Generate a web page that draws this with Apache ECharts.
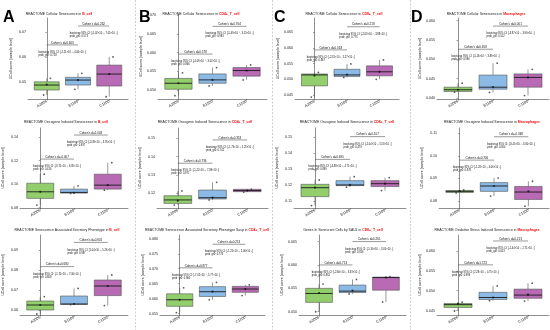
<!DOCTYPE html>
<html><head><meta charset="utf-8">
<script src="https://cdn.jsdelivr.net/npm/echarts@6/dist/echarts.min.js"></script>
<style>html,body{margin:0;padding:0;background:#fff}#c{width:550px;height:330px}</style>
</head><body><div id="c"></div>
<script>
const groups = ['A3006', 'B1100', 'C1100'];
const panelLetters = ['A', 'B', 'C', 'D'];
const yName = 'UCell score [sample level]';

// ---- A1
const titleA1 = ['REACTOME Cellular Senescence in ', 'B_cell'];
const ticksA1 = ['0.05', '0.06', '0.07'];
const boxA1 = [[0.0448, 0.0468, 0.0488, 0.0501, 0.0515], [0.0471, 0.0488, 0.0508, 0.0519, 0.0535], [0.0441, 0.0484, 0.0532, 0.0568, 0.0601]];
const meanA1 = [0.0490, 0.0508, 0.0532];
const ptsA1 = [[0.0515, 0.0448], [0.0535, 0.0471], [0.0601, 0.0441]];
const statsA1 = [["Cohen's d=0.603", "bootstrap 95% CI: [-1.21×10⁻³, 4.00×10⁻³]", "prob_gt0: 0.728"], ["Cohen's d=0.262", "bootstrap 95% CI: [-5.02×10⁻³, 7.05×10⁻³]", "prob_gt0: 0.573"]];
// ---- B1
const titleB1 = ['REACTOME Cellular Senescence in ', 'CD4+_T_cell'];
const ticksB1 = ['0.050', '0.055', '0.060', '0.065', '0.070'];
const boxB1 = [[0.0485, 0.0502, 0.0518, 0.0531, 0.0546], [0.0511, 0.0518, 0.0527, 0.0543, 0.0560], [0.0527, 0.0537, 0.0552, 0.0560, 0.0567]];
const meanB1 = [0.0518, 0.0527, 0.0552];
const ptsB1 = [[0.0546, 0.0485], [0.0560, 0.0511], [0.0567, 0.0527]];
const statsB1 = [["Cohen's d=0.578", "bootstrap 95% CI: [-4.03×10⁻⁴, 3.02×10⁻³]", "prob_gt0: 0.866"], ["Cohen's d=0.764", "bootstrap 95% CI: [-5.49×10⁻⁴, 3.55×10⁻³]", "prob_gt0: 0.983"]];
// ---- C1
const titleC1 = ['REACTOME Cellular Senescence in ', 'CD8+_T_cell'];
const ticksC1 = ['0.045', '0.050', '0.055', '0.060', '0.065'];
const boxC1 = [[0.0443, 0.0479, 0.0514, 0.0517, 0.0522], [0.0506, 0.0509, 0.0514, 0.0532, 0.0549], [0.0500, 0.0511, 0.0524, 0.0543, 0.0562]];
const meanC1 = [0.0512, 0.0515, 0.0524];
const ptsC1 = [[0.0522, 0.0443], [0.0549, 0.0506], [0.0562, 0.0500]];
const statsC1 = [["Cohen's d=0.563", "bootstrap 95% CI: [-2.31×10⁻³, 5.27×10⁻³]", "prob_gt0: 0.867"], ["Cohen's d=0.218", "bootstrap 95% CI: [-2.63×10⁻³, 3.88×10⁻³]", "prob_gt0: 0.773"]];
// ---- D1
const titleD1 = ['REACTOME Cellular Senescence in ', 'Macrophages'];
const ticksD1 = ['0.040', '0.045', '0.050', '0.055', '0.060'];
const boxD1 = [[0.04147, 0.04164, 0.0421, 0.04276, 0.0438], [0.0414, 0.04224, 0.04276, 0.0459, 0.0490], [0.0406, 0.04276, 0.0453, 0.0462, 0.0474]];
const meanD1 = [0.0421, 0.0428, 0.0453];
const ptsD1 = [[0.0438, 0.04147], [0.0490, 0.0414], [0.0474, 0.0406]];
const statsD1 = [["Cohen's d=0.658", "bootstrap 95% CI: [-5.26×10⁻⁴, 3.89×10⁻³]", "prob_gt0: 0.996"], ["Cohen's d=0.001", "bootstrap 95% CI: [-3.87×10⁻³, 3.90×10⁻³]", "prob_gt0: 0.512"]];
// ---- A2
const titleA2 = ['REACTOME Oncogene Induced Senescence in ', 'B_cell'];
const ticksA2 = ['0.08', '0.10', '0.12', '0.14'];
const boxA2 = [[0.0822, 0.0879, 0.0935, 0.1008, 0.1085], [0.0921, 0.0924, 0.0930, 0.0958, 0.0986], [0.0949, 0.0958, 0.0992, 0.1085, 0.1183]];
const meanA2 = [0.0935, 0.0927, 0.0992];
const ptsA2 = [[0.1085, 0.0822], [0.0986, 0.0921], [0.1183, 0.0949]];
const statsA2 = [["Cohen's d=-0.007", "bootstrap 95% CI: [-9.72×10⁻³, 6.85×10⁻³]", "prob_gt0: 0.416"], ["Cohen's d=1.003", "bootstrap 95% CI: [-3.09×10⁻³, 3.76×10⁻²]", "prob_gt0: 0.937"]];
// ---- B2
const titleB2 = ['REACTOME Oncogene Induced Senescence in ', 'CD4+_T_cell'];
const ticksB2 = ['0.12', '0.13', '0.14', '0.15'];
const boxB2 = [[0.1136, 0.1145, 0.1164, 0.1187, 0.1213], [0.1164, 0.1169, 0.1176, 0.1218, 0.1260], [0.1207, 0.1209, 0.1215, 0.1222, 0.1222]];
const meanB2 = [0.1160, 0.1176, 0.1215];
const ptsB2 = [[0.1213, 0.1136], [0.1260, 0.1164], [0.1222, 0.1207]];
const statsB2 = [["Cohen's d=0.736", "bootstrap 95% CI: [-1.22×10⁻³, 7.89×10⁻³]", "prob_gt0: 0.971"], ["Cohen's d=0.353", "bootstrap 95% CI: [-1.73×10⁻³, 5.25×10⁻³]", "prob_gt0: 0.742"]];
// ---- C2
const titleC2 = ['REACTOME Oncogene Induced Senescence in ', 'CD8+_T_cell'];
const ticksC2 = ['0.11', '0.12', '0.13', '0.14', '0.15'];
const boxC2 = [[0.1073, 0.1129, 0.1185, 0.1206, 0.1233], [0.1188, 0.1198, 0.1202, 0.1229, 0.1254], [0.1167, 0.1192, 0.1210, 0.1229, 0.1248]];
const meanC2 = [0.1185, 0.1202, 0.1210];
const ptsC2 = [[0.1233, 0.1073], [0.1254, 0.1188], [0.1248, 0.1167]];
const statsC2 = [["Cohen's d=0.695", "bootstrap 95% CI: [-3.88×10⁻³, 4.71×10⁻³]", "prob_gt0: 0.899"], ["Cohen's d=0.107", "bootstrap 95% CI: [-5.04×10⁻³, 5.53×10⁻³]", "prob_gt0: 0.479"]];
// ---- D2
const titleD2 = ['REACTOME Oncogene Induced Senescence in ', 'Macrophages'];
const ticksD2 = ['0.08', '0.09', '0.10', '0.11'];
const boxD2 = [[0.0835, 0.0837, 0.0842, 0.0846, 0.0848], [0.0821, 0.0842, 0.0866, 0.0881, 0.0901], [0.0776, 0.0806, 0.0839, 0.0864, 0.0887]];
const meanD2 = [0.0843, 0.0866, 0.0842];
const ptsD2 = [[0.0848, 0.0835], [0.0901, 0.0821], [0.0887, 0.0776]];
const statsD2 = [["Cohen's d=0.706", "bootstrap 95% CI: [-1.28×10⁻³, 4.06×10⁻³]", "prob_gt0: 0.878"], ["Cohen's d=-0.348", "bootstrap 95% CI: [-8.45×10⁻³, 3.00×10⁻³]", "prob_gt0: 0.304"]];
// ---- A3
const titleA3 = ['REACTOME Senescence Associated Secretory Phenotype in ', 'B_cell'];
const ticksA3 = ['0.06', '0.07', '0.08', '0.09'];
const boxA3 = [[0.0580, 0.0600, 0.0625, 0.0645, 0.0667], [0.0627, 0.0628, 0.0630, 0.0670, 0.0708], [0.0622, 0.0672, 0.0720, 0.0750, 0.0775]];
const meanA3 = [0.0625, 0.0630, 0.0720];
const ptsA3 = [[0.0667, 0.0580], [0.0708, 0.0627], [0.0775, 0.0622]];
const statsA3 = [["Cohen's d=0.680", "bootstrap 95% CI: [-1.70×10⁻³, 7.06×10⁻³]", "prob_gt0: 0.808"], ["Cohen's d=0.801", "bootstrap 95% CI: [1.04×10⁻³, 5.26×10⁻²]", "prob_gt0: 0.987"]];
// ---- B3
const titleB3 = ['REACTOME Senescence Associated Secretory Phenotype Sasp in ', 'CD4+_T_cell'];
const ticksB3 = ['0.055', '0.060', '0.065', '0.070', '0.075', '0.080'];
const boxB3 = [[0.0553, 0.0574, 0.0596, 0.0616, 0.0636], [0.0596, 0.0607, 0.0623, 0.0640, 0.0654], [0.0610, 0.0621, 0.0632, 0.0641, 0.0646]];
const meanB3 = [0.0596, 0.0623, 0.0632];
const ptsB3 = [[0.0636, 0.0553], [0.0654, 0.0596], [0.0646, 0.0610]];
const statsB3 = [["Cohen's d=0.877", "bootstrap 95% CI: [-7.02×10⁻⁴, 5.77×10⁻³]", "prob_gt0: 0.960"], ["Cohen's d=0.213", "bootstrap 95% CI: [-1.25×10⁻³, 2.06×10⁻³]", "prob_gt0: 0.776"]];
// ---- C3
const titleC3 = ['Genes In Senescent Cells by SAUL in ', 'CD8+_T_cell'];
const ticksC3 = ['0.050', '0.055', '0.060', '0.065'];
const boxC3 = [[0.0500, 0.0520, 0.0539, 0.0550, 0.0559], [0.0538, 0.0541, 0.0544, 0.0557, 0.0569], [0.0521, 0.0546, 0.0573, 0.0574, 0.0575]];
const meanC3 = [0.0540, 0.0545, 0.0573];
const ptsC3 = [[0.0559, 0.0500], [0.0569, 0.0538], [0.0575, 0.0521]];
const statsC3 = [["Cohen's d=0.713", "bootstrap 95% CI: [-2.66×10⁻³, 3.33×10⁻³]", "prob_gt0: 0.861"], ["Cohen's d=0.261", "bootstrap 95% CI: [-1.30×10⁻³, 3.05×10⁻³]", "prob_gt0: 0.816"]];
// ---- D3
const titleD3 = ['REACTOME Oxidative Stress Induced Senescence in ', 'Macrophages'];
const ticksD3 = ['0.045', '0.050', '0.055', '0.060'];
const boxD3 = [[0.0449, 0.0458, 0.0465, 0.0468, 0.0471], [0.0475, 0.0478, 0.0483, 0.0496, 0.0512], [0.0474, 0.0481, 0.0489, 0.0504, 0.0519]];
const meanD3 = [0.0467, 0.0483, 0.0490];
const ptsD3 = [[0.0471, 0.0449], [0.0512, 0.0475], [0.0519, 0.0474]];
const statsD3 = [["Cohen's d=1.723", "bootstrap 95% CI: [2.28×10⁻³, 4.75×10⁻³]", "prob_gt0: 0.999"], ["Cohen's d=0.213", "bootstrap 95% CI: [-1.44×10⁻³, 2.71×10⁻³]", "prob_gt0: 0.613"]];

const panels = [
  [titleA1, ticksA1, boxA1, meanA1, ptsA1, statsA1], [titleB1, ticksB1, boxB1, meanB1, ptsB1, statsB1],
  [titleC1, ticksC1, boxC1, meanC1, ptsC1, statsC1], [titleD1, ticksD1, boxD1, meanD1, ptsD1, statsD1],
  [titleA2, ticksA2, boxA2, meanA2, ptsA2, statsA2], [titleB2, ticksB2, boxB2, meanB2, ptsB2, statsB2],
  [titleC2, ticksC2, boxC2, meanC2, ptsC2, statsC2], [titleD2, ticksD2, boxD2, meanD2, ptsD2, statsD2],
  [titleA3, ticksA3, boxA3, meanA3, ptsA3, statsA3], [titleB3, ticksB3, boxB3, meanB3, ptsB3, statsB3],
  [titleC3, ticksC3, boxC3, meanC3, ptsC3, statsC3], [titleD3, ticksD3, boxD3, meanD3, ptsD3, statsD3]
];

// ---- layout (pixel geometry, axis extents, bracket heights, title centre)
const layout = [
  {l: 28, r: 128, t: 18, b: 99, y: [0.0432, 0.0757], tx: 59, ty: 14, br: [0.0649, 0.0725]},
  {l: 158, r: 267, t: 14, b: 99, y: [0.0476, 0.0703], tx: 201, ty: 14, br: [0.0596, 0.0670]},
  {l: 295, r: 399, t: 18, b: 99, y: [0.0437, 0.0696], tx: 344, ty: 14, br: [0.0594, 0.0668]},
  {l: 437, r: 549, t: 18, b: 99, y: [0.0397, 0.0607], tx: 486, ty: 14, br: [0.0526, 0.0586]},
  {l: 17, r: 128, t: 128, b: 208, y: [0.0797, 0.1479], tx: 66, ty: 122, br: [0.1214, 0.1419]},
  {l: 157, r: 268, t: 128, b: 208, y: [0.1120, 0.1556], tx: 205, ty: 122, br: [0.1364, 0.1491]},
  {l: 294, r: 406, t: 128, b: 208, y: [0.1058, 0.1558], tx: 347, ty: 122, br: [0.1362, 0.1504]},
  {l: 439, r: 549, t: 128, b: 208, y: [0.0768, 0.1124], tx: 492, ty: 122, br: [0.0981, 0.1085]},
  {l: 17, r: 128, t: 235, b: 315, y: [0.0575, 0.0975], tx: 67, ty: 230, br: [0.0817, 0.0938]},
  {l: 160, r: 265, t: 235, b: 315, y: [0.0545, 0.0813], tx: 207, ty: 230, br: [0.0703, 0.0782]},
  {l: 299, r: 406, t: 235, b: 315, y: [0.0493, 0.0664], tx: 343, ty: 230, br: [0.0600, 0.0650]},
  {l: 437, r: 549, t: 235, b: 315, y: [0.0439, 0.0640], tx: 487, ty: 230, br: [0.0565, 0.0625]}
];
const letterPos = [[3, 10], [139, 10], [274, 10], [411, 10]];
const separators = [135.5, 272.5, 410.5];

const FONT = '"Liberation Sans", Arial, sans-serif';
const boxColors = ['#92cf6c', '#8cbae6', '#b86ab4'];
const jitter = [0.12, -0.1];
const BOXW = 0.8;
const TITLE_FS = 3.45;

const chart = echarts.init(document.getElementById('c'), null, {renderer: 'canvas'});

const grid = [], xAxis = [], yAxis = [], series = [];
panels.forEach((p, i) => {
  const L = layout[i];
  const ticks = p[1].map(Number);
  grid.push({left: L.l, top: L.t, width: L.r - L.l, height: L.b - L.t});
  xAxis.push({
    type: 'value', gridIndex: i, min: -0.6, max: 2.6,
    axisLine: {lineStyle: {color: '#444', width: 0.6}},
    axisTick: {customValues: [0, 1, 2], length: 1.5, lineStyle: {color: '#444', width: 0.5}},
    axisLabel: {customValues: [0, 1, 2], formatter: v => groups[Math.round(v)], rotate: 30,
      fontSize: 3.8, color: '#222', margin: 2, fontFamily: FONT},
    splitLine: {show: false}
  });
  yAxis.push({
    type: 'value', gridIndex: i, min: L.y[0], max: L.y[1],
    name: yName, nameLocation: 'middle', nameGap: 15,
    nameTextStyle: {fontSize: 3.6, color: '#222', fontFamily: FONT},
    axisLine: {show: true, lineStyle: {color: '#444', width: 0.6}},
    axisTick: {show: true, customValues: ticks, length: 1.5, lineStyle: {color: '#444', width: 0.5}},
    axisLabel: {customValues: ticks, fontSize: 3.6, color: '#222', margin: 2, fontFamily: FONT,
      formatter: v => { const k = ticks.findIndex(t => Math.abs(t - v) < 1e-9); return k >= 0 ? p[1][k] : ''; }},
    splitLine: {show: false}
  });
  series.push({
    type: 'custom', xAxisIndex: i, yAxisIndex: i, silent: true,
    data: p[2].map((b, k) => [k].concat(b)),
    encode: {x: 0, y: [1, 2, 3, 4, 5]},
    renderItem: (params, api) => {
      const x = api.value(0);
      const c = [1, 2, 3, 4, 5].map(d => api.coord([x, api.value(d)]));
      const bw = api.size([BOXW, 0])[0];
      const cx = c[0][0];
      const st = {stroke: '#555', lineWidth: 0.6};
      return {type: 'group', children: [
        {type: 'line', shape: {x1: cx, y1: c[4][1], x2: cx, y2: c[3][1]}, style: st},
        {type: 'line', shape: {x1: cx, y1: c[1][1], x2: cx, y2: c[0][1]}, style: st},
        {type: 'rect', shape: {x: cx - bw / 2, y: c[3][1], width: bw, height: Math.max(c[1][1] - c[3][1], 0.6)},
          style: {fill: boxColors[params.dataIndex], stroke: '#555', lineWidth: 0.6}},
        {type: 'line', shape: {x1: cx - bw / 2, y1: c[2][1], x2: cx + bw / 2, y2: c[2][1]}, style: {stroke: '#1a1a1a', lineWidth: 0.9}}
      ]};
    }
  });
  const pts = [];
  p[4].forEach((arr, k) => arr.forEach((v, j) => pts.push([k + jitter[j % jitter.length], v])));
  series.push({type: 'scatter', xAxisIndex: i, yAxisIndex: i, silent: true, symbolSize: 1.8,
    itemStyle: {color: '#333'}, data: pts});
  series.push({type: 'scatter', xAxisIndex: i, yAxisIndex: i, silent: true, symbolSize: 2.2,
    itemStyle: {color: '#111'}, data: p[3].map((v, k) => [k, v])});
  [0, 1].forEach(k => series.push({type: 'line', xAxisIndex: i, yAxisIndex: i, silent: true, symbol: 'none',
    lineStyle: {color: '#555', width: 0.6}, data: [[k, L.br[k]], [k + 1, L.br[k]]]}));
});

chart.setOption({animation: false, backgroundColor: '#fff', grid, xAxis, yAxis, series});

const ctx = document.createElement('canvas').getContext('2d');
function measure(t, size) { ctx.font = size + 'px ' + FONT; return ctx.measureText(t).width; }

const g = [];
separators.forEach(x => g.push({type: 'line', silent: true,
  shape: {x1: x, y1: 0, x2: x, y2: 330}, style: {stroke: '#b0b0b0', lineWidth: 0.6, lineDash: [2, 1.5]}}));
panelLetters.forEach((t, k) => g.push({type: 'text', silent: true, style: {text: t, x: letterPos[k][0], y: letterPos[k][1],
  font: 'bold 16px ' + FONT, fill: '#000', textAlign: 'left', align: 'left', textVerticalAlign: 'top', verticalAlign: 'top'}}));
panels.forEach((p, i) => {
  const L = layout[i];
  g.push({type: 'text', silent: true, style: {
    text: '{n|' + p[0][0] + '}{r|' + p[0][1] + '}', x: L.tx, y: L.ty,
    textAlign: 'center', align: 'center', textVerticalAlign: 'middle', verticalAlign: 'middle',
    rich: {n: {fontSize: TITLE_FS, fill: '#222', fontFamily: FONT}, r: {fontSize: TITLE_FS, fill: '#ee1111', fontWeight: 'bold', fontFamily: FONT}}
  }});
  [0, 1].forEach(k => {
    const y = L.br[k];
    const p0 = chart.convertToPixel({xAxisIndex: i, yAxisIndex: i}, [k, y]);
    const p1 = chart.convertToPixel({xAxisIndex: i, yAxisIndex: i}, [k + 1, y]);
    const cx = (p0[0] + p1[0]) / 2;
    const s = p[5][k];
    g.push({type: 'text', silent: true, style: {text: s[0], x: cx, y: p0[1] - 0.6, font: '3px ' + FONT, fill: '#111',
      textAlign: 'center', align: 'center', textVerticalAlign: 'bottom', verticalAlign: 'bottom'}});
    const w = Math.max(measure(s[1], 2.6), measure(s[2], 2.6));
    g.push({type: 'text', silent: true, style: {text: s[1] + '\n' + s[2], x: cx - w / 2, y: p0[1] + 5.9,
      font: '2.6px ' + FONT, fill: '#111', lineHeight: 3,
      textAlign: 'left', align: 'left', textVerticalAlign: 'top', verticalAlign: 'top'}});
  });
});
chart.setOption({graphic: {elements: g}});
</script></body></html>
